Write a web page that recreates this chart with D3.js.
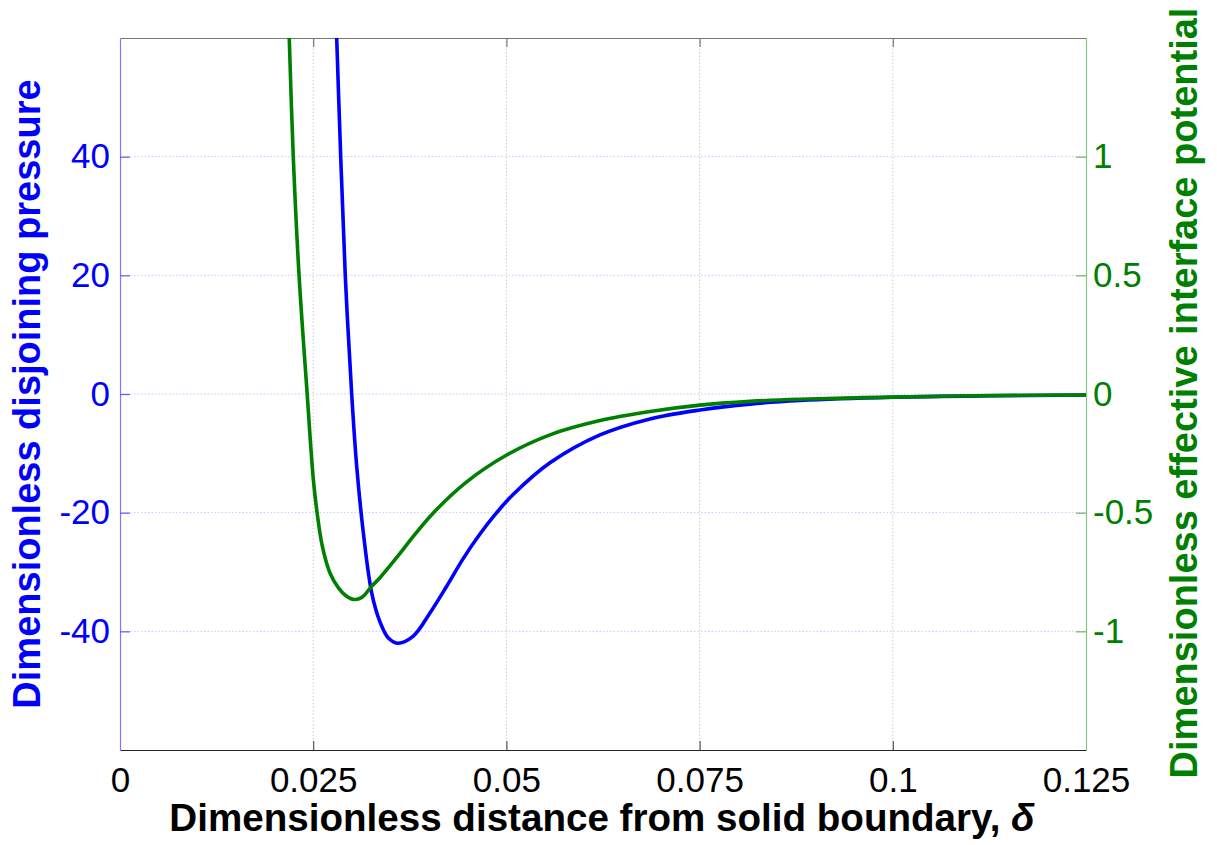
<!DOCTYPE html>
<html>
<head>
<meta charset="utf-8">
<script src="https://cdn.jsdelivr.net/npm/d3@7/dist/d3.min.js"></script>
<style>
  html, body { margin: 0; padding: 0; background: #fff; }
  svg { display: block; font-family: "Liberation Sans", Arial, sans-serif; }
</style>
</head>
<body>
<svg id="chart" width="1217" height="845"></svg>
<script>
// ---- data ----
const xTicks = [0, 0.025, 0.05, 0.075, 0.1, 0.125];
const xTickLabels = ["0", "0.025", "0.05", "0.075", "0.1", "0.125"];
const leftTicks = [-40, -20, 0, 20, 40];
const leftTickLabels = ["-40", "-20", "0", "20", "40"];
const rightTicks = [-1, -0.5, 0, 0.5, 1];
const rightTickLabels = ["-1", "-0.5", "0", "0.5", "1"];

// disjoining pressure (blue, left axis)
const pressureX = [0.02804, 0.02856, 0.02915, 0.02998, 0.03063, 0.03149, 0.03257, 0.03364, 0.03470, 0.03590,
                   0.03795, 0.04011, 0.04227, 0.04443, 0.04658, 0.04874, 0.05090, 0.05564, 0.06211, 0.06858,
                   0.07505, 0.08152, 0.08799, 0.1, 0.1125, 0.125];
const pressureY = [60, 40, 20, 0, -12.2, -23.4, -33.5, -38.4, -41.1, -42.0,
                   -40.8, -36.9, -32.4, -27.7, -23.6, -20.0, -16.9, -11.6, -6.9, -4.2,
                   -2.7, -1.7, -1.1, -0.55, -0.3, -0.18];

// effective interface potential (green, right axis)
const potentialX = [0.02190, 0.02242, 0.02317, 0.02422, 0.02501, 0.02549, 0.02618, 0.02717, 0.02825, 0.02911,
                    0.03030, 0.03130, 0.03257, 0.03364, 0.03623, 0.03795, 0.04054, 0.04486, 0.05004, 0.05564,
                    0.06211, 0.06858, 0.07505, 0.08152, 0.08799, 0.1, 0.1125, 0.125];
const potentialY = [1.5, 1.0, 0.5, 0.0, -0.358, -0.497, -0.641, -0.754, -0.816, -0.847,
                    -0.866, -0.857, -0.81, -0.774, -0.672, -0.600, -0.501, -0.370, -0.257, -0.172,
                    -0.112, -0.074, -0.047, -0.031, -0.022, -0.013, -0.007, -0.004];

const xLabel = "Dimensionless distance from solid boundary, ";
const xLabelSymbol = "δ";
const leftLabel = "Dimensionless disjoining pressure";
const rightLabel = "Dimensionless effective interface potential";

// ---- layout ----
const L = 120, R = 1086, T = 38, B = 750;
const BLUE = "#0000ff", GREEN = "#008000";

const svg = d3.select("#chart");

const x = d3.scaleLinear().domain([0, 0.125]).range([L, R]);
const yL = d3.scaleLinear().domain([-60, 60]).range([B, T]);
const yR = d3.scaleLinear().domain([-1.5, 1.5]).range([B, T]);

// clip
svg.append("defs").append("clipPath").attr("id", "plotclip")
  .append("rect").attr("x", L).attr("y", T).attr("width", R - L).attr("height", B - T);

// grid
const grid = svg.append("g");
grid.selectAll("line.vg").data(xTicks.slice(1, -1)).enter().append("line")
  .attr("x1", d => x(d)).attr("x2", d => x(d)).attr("y1", T).attr("y2", B)
  .attr("stroke", "#cdcdcd").attr("stroke-width", 1).attr("stroke-dasharray", "1.5,2");
grid.selectAll("line.hg").data(leftTicks).enter().append("line")
  .attr("x1", L).attr("x2", R).attr("y1", d => yL(d)).attr("y2", d => yL(d))
  .attr("stroke", "#c8c8ff").attr("stroke-width", 1).attr("stroke-dasharray", "1.5,2");

// axes
function styleAxis(g, domainColor, tickColor, textColor) {
  g.select(".domain").attr("stroke", domainColor).attr("stroke-width", 1.2);
  g.selectAll(".tick line").attr("stroke", tickColor).attr("stroke-width", 1.2);
  g.selectAll(".tick text").attr("fill", textColor)
    .style("font-size", "35px").style("font-family", "'Liberation Sans', Arial, sans-serif");
}

const xAxisB = svg.append("g").attr("transform", `translate(0,${B})`)
  .call(d3.axisBottom(x).tickValues(xTicks).tickFormat((d, i) => xTickLabels[i])
    .tickSizeInner(-9).tickSizeOuter(0).tickPadding(17));
styleAxis(xAxisB, "#262626", "#555", "#000");
xAxisB.selectAll(".tick").filter(d => d === 0 || d === 0.125).select("line").remove();

const xAxisT = svg.append("g").attr("transform", `translate(0,${T})`)
  .call(d3.axisTop(x).tickValues(xTicks).tickFormat("")
    .tickSizeInner(-9).tickSizeOuter(0));
styleAxis(xAxisT, "#777", "#777", "#000");
xAxisT.selectAll(".tick").filter(d => d === 0 || d === 0.125).select("line").remove();

const yAxisL = svg.append("g").attr("transform", `translate(${L},0)`)
  .call(d3.axisLeft(yL).tickValues(leftTicks).tickFormat((d, i) => leftTickLabels[i])
    .tickSizeInner(-10).tickSizeOuter(0).tickPadding(10));
styleAxis(yAxisL, "#7a7aff", "#5a5aff", BLUE);

const yAxisR = svg.append("g").attr("transform", `translate(${R},0)`)
  .call(d3.axisRight(yR).tickValues(rightTicks).tickFormat((d, i) => rightTickLabels[i])
    .tickSizeInner(-10).tickSizeOuter(0).tickPadding(7));
styleAxis(yAxisR, "#86c486", "#6ab46a", GREEN);

// curves
const pressure = pressureX.map((v, i) => [v, pressureY[i]]);
const potential = potentialX.map((v, i) => [v, potentialY[i]]);

const plot = svg.append("g").attr("clip-path", "url(#plotclip)");
plot.append("path").datum(pressure)
  .attr("d", d3.line().x(d => x(d[0])).y(d => yL(d[1])).curve(d3.curveCatmullRom.alpha(0.5)))
  .attr("fill", "none").attr("stroke", BLUE).attr("stroke-width", 3.6).attr("stroke-linejoin", "round");
plot.append("path").datum(potential)
  .attr("d", d3.line().x(d => x(d[0])).y(d => yR(d[1])).curve(d3.curveCatmullRom.alpha(0.5)))
  .attr("fill", "none").attr("stroke", GREEN).attr("stroke-width", 3.6).attr("stroke-linejoin", "round");

// labels
const xl = svg.append("text").attr("x", 602).attr("y", 831).attr("text-anchor", "middle")
  .attr("font-size", 38.6).attr("font-weight", "bold").attr("fill", "#000");
xl.append("tspan").text(xLabel);
xl.append("tspan").attr("font-style", "italic").text(xLabelSymbol);

svg.append("text").attr("transform", `translate(40,394) rotate(-90)`)
  .attr("text-anchor", "middle").attr("font-size", 38).attr("font-weight", "bold")
  .attr("fill", BLUE).text(leftLabel);

svg.append("text").attr("transform", `translate(1197,393) rotate(-90)`)
  .attr("text-anchor", "middle").attr("font-size", 38).attr("font-weight", "bold")
  .attr("fill", GREEN).text(rightLabel);
</script>
</body>
</html>
